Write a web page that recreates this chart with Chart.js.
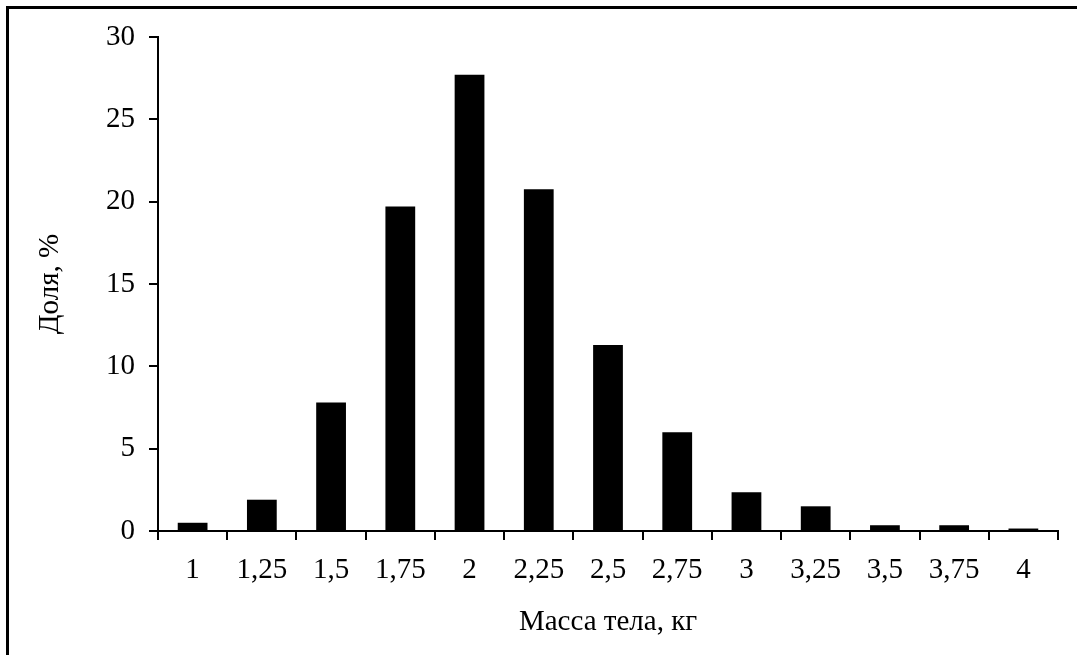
<!DOCTYPE html>
<html>
<head>
<meta charset="utf-8">
<script src="https://cdn.jsdelivr.net/npm/chart.js@4"></script>
<style>
  html, body { margin: 0; padding: 0; background: #fff; }
  #wrap { position: relative; width: 1077px; height: 655px; overflow: hidden; }
  #frame {
    position: absolute; left: 6px; top: 6px; width: 1200px; height: 800px;
    border-left: 3px solid #000; border-top: 3px solid #000;
    pointer-events: none;
  }
</style>
</head>
<body>
<div id="wrap">
  <canvas id="myChart" width="1077" height="655"></canvas>
  <div id="frame"></div>
</div>
<script>
// body mass classes, kg
const massLabels = ["1", "1,25", "1,5", "1,75", "2", "2,25", "2,5", "2,75", "3", "3,25", "3,5", "3,75", "4"];
// share of animals, %
const shareValues = [0.5, 1.9, 7.8, 19.7, 27.7, 20.75, 11.3, 6.0, 2.35, 1.5, 0.35, 0.35, 0.15];

const yTicks = [0, 5, 10, 15, 20, 25, 30];

const serif = "'Liberation Serif', 'Times New Roman', serif";
const fontSize = 29;

const ctx = document.getElementById("myChart").getContext("2d");

const myChart = new Chart(ctx, {
    type: "bar",
    data: {
        labels: massLabels,
        datasets: [
            {
                label: "Доля",
                data: shareValues,
                backgroundColor: "#000",
                borderWidth: 0,
                barPercentage: 0.86,
                categoryPercentage: 0.5,
            },
        ],
    },
    options: {
        responsive: false,
        animation: false,
        layout: {
            padding: { left: 0, top: 37, right: 19, bottom: 0 },
        },
        plugins: {
            legend: { display: false },
            tooltip: { enabled: false },
        },
        scales: {
            x: {
                grid: {
                    offset: true,
                    drawOnChartArea: false,
                    drawTicks: true,
                    tickLength: 9,
                    color: "#000",
                    lineWidth: 2,
                },
                border: { display: true, color: "#000", width: 2 },
                ticks: {
                    color: "#000",
                    font: { family: serif, size: fontSize },
                    padding: 13,
                    maxRotation: 0,
                    autoSkip: false,
                },
                title: {
                    display: true,
                    text: "Масса тела, кг",
                    color: "#000",
                    font: { family: serif, size: fontSize },
                    padding: { top: 10, bottom: 15 },
                },
                afterFit: (scale) => { scale.height = 124; },
            },
            y: {
                min: 0,
                max: 30,
                afterBuildTicks: (scale) => {
                    scale.ticks = yTicks.map(v => ({ value: v }));
                },
                grid: {
                    drawOnChartArea: false,
                    drawTicks: true,
                    tickLength: 9,
                    color: "#000",
                    lineWidth: 2,
                },
                border: { display: true, color: "#000", width: 2 },
                ticks: {
                    color: "#000",
                    font: { family: serif, size: fontSize },
                    padding: 14,
                },
                title: {
                    display: true,
                    text: "Доля, %",
                    color: "#000",
                    font: { family: serif, size: fontSize },
                    padding: { top: 33, bottom: 0 },
                },
                afterFit: (scale) => { scale.width = 158; },
            },
        },
    },
});
</script>
</body>
</html>
